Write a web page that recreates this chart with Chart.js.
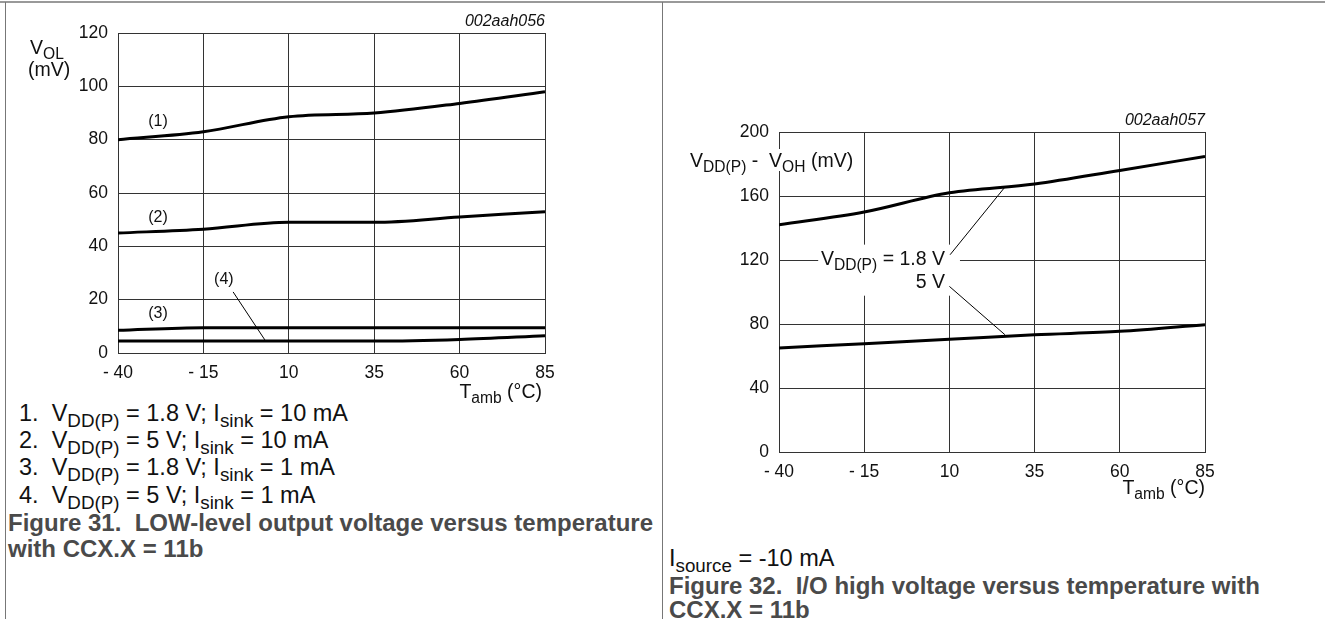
<!DOCTYPE html>
<html>
<head>
<meta charset="utf-8">
<script src="https://cdn.jsdelivr.net/npm/chart.js@4/dist/chart.umd.min.js"></script>
<style>
body { margin: 0; background: #fff; font-family: "Liberation Sans", Arial, sans-serif; color: #111; }
#page { position: relative; width: 1325px; height: 619px; overflow: hidden; }
.line { position: absolute; background: #777; }
.t { position: absolute; white-space: nowrap; font-size: 19.5px; line-height: 22px; }
.t sub { font-size: 0.8em; vertical-align: -0.3em; line-height: 0; }
.it { font-style: italic; font-size: 16px; line-height: 18px; }
.lg { font-size: 23.5px; line-height: 27px; }
.cap { font-weight: bold; color: #4a4a4a; font-size: 24px; line-height: 26px; }
canvas { position: absolute; }
</style>
</head>
<body>
<div id="page">
  <div class="line" style="left:0;top:1px;width:1325px;height:2px;background:#999"></div>
  <div class="line" style="left:5px;top:2px;width:1px;height:617px"></div>
  <div class="line" style="left:662px;top:2px;width:1px;height:617px"></div>

  <canvas id="volChart" width="662" height="400" style="left:0;top:0"></canvas>
  <canvas id="vohChart" width="663" height="500" style="left:662px;top:0"></canvas>

  <!-- figure 31 texts -->
  <div class="t it" style="right:780px;top:12px">002aah056</div>
  <div class="t" style="left:30px;top:36px">V<sub>OL</sub></div>
  <div class="t" style="left:28px;top:58px">(mV)</div>
  <div class="t" style="right:783px;top:380px">T<sub>amb</sub> (°C)</div>
  <div class="t lg" style="left:19px;top:400px">1.&nbsp; V<sub>DD(P)</sub> = 1.8 V; I<sub>sink</sub> = 10 mA</div>
  <div class="t lg" style="left:19px;top:427px">2.&nbsp; V<sub>DD(P)</sub> = 5 V; I<sub>sink</sub> = 10 mA</div>
  <div class="t lg" style="left:19px;top:454px">3.&nbsp; V<sub>DD(P)</sub> = 1.8 V; I<sub>sink</sub> = 1 mA</div>
  <div class="t lg" style="left:19px;top:482px">4.&nbsp; V<sub>DD(P)</sub> = 5 V; I<sub>sink</sub> = 1 mA</div>
  <div class="t cap" style="left:8px;top:510px">Figure 31.&nbsp; LOW-level output voltage versus temperature</div>
  <div class="t cap" style="left:8px;top:536px">with CCX.X = 11b</div>

  <!-- figure 32 texts -->
  <div class="t it" style="right:120px;top:111px">002aah057</div>
  <div class="t" style="left:688px;top:149px;background:#fff;padding:0 2px">V<sub>DD(P)</sub> - &nbsp;V<sub>OH</sub> (mV)</div>
  <div class="t" style="right:120px;top:476px">T<sub>amb</sub> (°C)</div>
  <div class="t lg" style="left:669px;top:545px">I<sub>source</sub> = -10 mA</div>
  <div class="t cap" style="left:669px;top:573px">Figure 32.&nbsp; I/O high voltage versus temperature with</div>
  <div class="t cap" style="left:669px;top:597px">CCX.X = 11b</div>
</div>

<script>
// ambient temperature (°C)
const temps = [-40, -15, 10, 35, 60, 85];

// figure 31: VOL (mV)
const vol18v10mA = [80, 83, 88.6, 90, 93.6, 98];
const vol5v10mA = [45, 46.4, 49, 49, 51, 53];
const vol18v1mA = [8.5, 9.5, 9.5, 9.5, 9.5, 9.5];
const vol5v1mA = [4.5, 4.5, 4.5, 4.5, 5.1, 6.5];

// figure 32: VDD(P) - VOH (mV)
const voh18v = [142, 150, 162, 167.5, 176, 184.7];
const voh5v = [65, 67.7, 70.4, 73.3, 75.4, 79.6];

const tickFont = { family: '"Liberation Sans", Arial, sans-serif', size: 17.5 };
const noteFont = '"Liberation Sans", Arial, sans-serif';

function points(ys) {
    return temps.map((t, i) => ({ x: t, y: ys[i] }));
}

function curve(ys) {
    return {
        data: points(ys),
        borderColor: '#000',
        borderWidth: 3,
        pointRadius: 0,
        cubicInterpolationMode: 'monotone',
        fill: false
    };
}

// draw text with subscripts, parts = [[text, isSub], ...]
function drawRich(ctx, parts, x, y, size, align) {
    const widths = parts.map(p => {
        ctx.font = (p[1] ? size * 0.8 : size) + 'px ' + noteFont;
        return ctx.measureText(p[0]).width;
    });
    const total = widths.reduce((a, b) => a + b, 0);
    let cx = align === 'right' ? x - total : align === 'center' ? x - total / 2 : x;
    ctx.textBaseline = 'middle';
    ctx.textAlign = 'left';
    parts.forEach((p, i) => {
        ctx.font = (p[1] ? size * 0.8 : size) + 'px ' + noteFont;
        ctx.fillText(p[0], cx, p[1] ? y + size * 0.28 : y);
        cx += widths[i];
    });
}

const notesPlugin = {
    id: 'notes',
    afterDatasetsDraw(chart, args, opts) {
        const ctx = chart.ctx;
        const px = v => chart.scales.x.getPixelForValue(v);
        const py = v => chart.scales.y.getPixelForValue(v);
        ctx.save();
        (opts.boxes || []).forEach(b => {
            ctx.fillStyle = '#fff';
            ctx.fillRect(px(b.x0), py(b.y1), px(b.x1) - px(b.x0), py(b.y0) - py(b.y1));
        });
        ctx.strokeStyle = '#000';
        ctx.lineWidth = 1;
        (opts.leaders || []).forEach(l => {
            ctx.beginPath();
            ctx.moveTo(px(l.x0), py(l.y0));
            ctx.lineTo(px(l.x1), py(l.y1));
            ctx.stroke();
        });
        ctx.fillStyle = '#111';
        (opts.labels || []).forEach(l => {
            drawRich(ctx, l.parts, px(l.x), py(l.y), l.size || 16, l.align || 'center');
        });
        ctx.restore();
    }
};

function negLabel(v) {
    return v < 0 ? '- ' + Math.abs(v) : String(v);
}

function buildScales(yMax, yStep, yWidth, xHeight) {
    return {
        x: {
            type: 'linear',
            min: -40,
            max: 85,
            ticks: { stepSize: 25, callback: negLabel, font: tickFont, color: '#111', padding: 10, maxRotation: 0 },
            grid: { color: '#333', lineWidth: 1, drawTicks: false },
            border: { color: '#333' },
            afterFit: s => { s.height = xHeight; }
        },
        y: {
            min: 0,
            max: yMax,
            ticks: { stepSize: yStep, font: tickFont, color: '#111', padding: 10 },
            grid: { color: '#333', lineWidth: 1, drawTicks: false },
            border: { color: '#333' },
            afterFit: s => { s.width = yWidth; }
        }
    };
}

new Chart(document.getElementById('volChart'), {
    type: 'line',
    data: {
        datasets: [curve(vol18v10mA), curve(vol5v10mA), curve(vol18v1mA), curve(vol5v1mA)]
    },
    options: {
        responsive: false,
        animation: false,
        layout: { padding: { top: 33, right: 117, left: 0, bottom: 0 } },
        scales: buildScales(120, 20, 118, 47),
        plugins: {
            legend: { display: false },
            tooltip: { enabled: false },
            notes: {
                leaders: [{ x0: -6.3, y0: 22.9, x1: 3.0, y1: 4.9 }],
                labels: [
                    { parts: [['(1)']], x: -28.3, y: 86.6 },
                    { parts: [['(2)']], x: -28.3, y: 50.6 },
                    { parts: [['(3)']], x: -28.3, y: 14.6 },
                    { parts: [['(4)']], x: -9, y: 27.4 }
                ]
            }
        }
    },
    plugins: [notesPlugin]
});

new Chart(document.getElementById('vohChart'), {
    type: 'line',
    data: {
        datasets: [curve(voh18v), curve(voh5v)]
    },
    options: {
        responsive: false,
        animation: false,
        layout: { padding: { top: 132, right: 120, left: 0, bottom: 0 } },
        scales: buildScales(200, 40, 117, 48),
        plugins: {
            legend: { display: false },
            tooltip: { enabled: false },
            notes: {
                boxes: [{ x0: -28.5, x1: 13.1, y0: 97.7, y1: 129.6 }],
                leaders: [
                    { x0: 10.2, y0: 123.3, x1: 26.3, y1: 165.6 },
                    { x0: 10.0, y0: 103.5, x1: 26.3, y1: 73.3 }
                ],
                labels: [
                    { parts: [['V'], ['DD(P)', true], [' = 1.8 V']], x: 8.7, y: 120, size: 19.5, align: 'right' },
                    { parts: [['5 V']], x: 8.7, y: 106, size: 19.5, align: 'right' }
                ]
            }
        }
    },
    plugins: [notesPlugin]
});
</script>
</body>
</html>
